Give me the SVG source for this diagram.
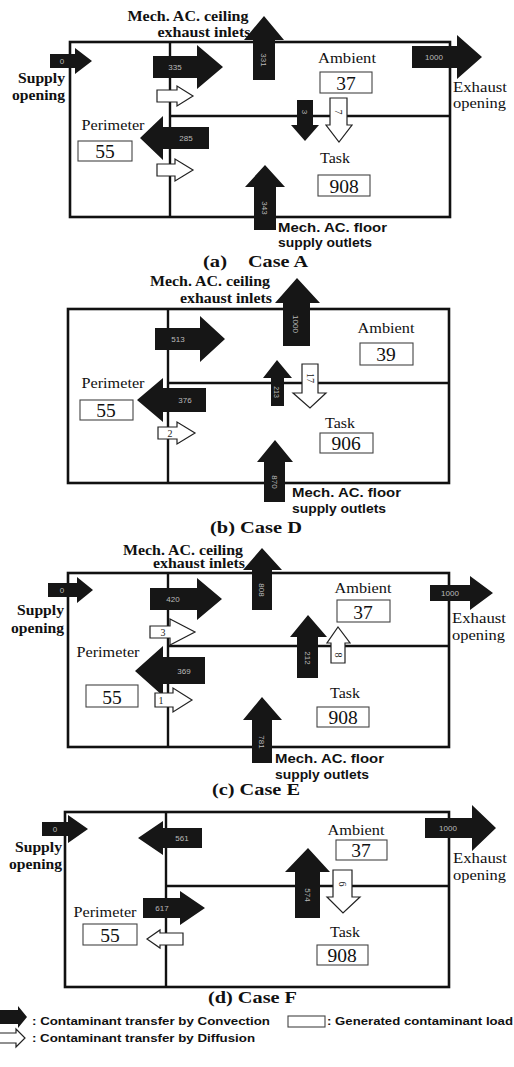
<svg xmlns="http://www.w3.org/2000/svg" width="514" height="1067" viewBox="0 0 514 1067">
<style>
.room{fill:none;stroke:#111;stroke-width:2.6}
.div{stroke:#111;stroke-width:2.4;fill:none}
.conv{fill:#161616}
.diff{fill:#fff;stroke:#222;stroke-width:1.2}
.box{fill:#fff;stroke:#444;stroke-width:1.1}
.zl{font-family:"Liberation Serif",serif;font-size:14px;fill:#111;text-anchor:middle}
.num{font-family:"Liberation Serif",serif;font-size:19.5px;fill:#111;text-anchor:middle}
.hd{font-family:"Liberation Serif",serif;font-size:14px;font-weight:bold;fill:#111}
.op{font-family:"Liberation Serif",serif;font-size:14px;fill:#111}
.fl{font-family:"Liberation Sans",sans-serif;font-size:12.5px;font-weight:bold;fill:#111}
.cap{font-family:"Liberation Serif",serif;font-size:17px;font-weight:bold;fill:#111}
.at{font-family:"Liberation Sans",sans-serif;font-size:8px;fill:#bbb;text-anchor:middle}
.dt{font-family:"Liberation Serif",serif;font-size:10px;fill:#222;text-anchor:middle}
.lg{font-family:"Liberation Sans",sans-serif;font-size:11px;font-weight:bold;fill:#111}
</style>
<rect width="514" height="1067" fill="#fff"/>

<!-- Panel (a) -->
<g id="panelA">
  <g id="a-room"><rect class="room" x="70" y="42" width="380" height="175"/><path class="div" d="M170 42V217M170 116H450"/></g>
  <g id="a-perimeter"><text class="zl" x="113" y="130" textLength="63" lengthAdjust="spacingAndGlyphs">Perimeter</text><rect class="box" x="78" y="141" width="54" height="20"/><text class="num" x="105" y="158">55</text></g>
  <g id="a-ambient"><text class="zl" x="347" y="63" textLength="58" lengthAdjust="spacingAndGlyphs">Ambient</text><rect class="box" x="320" y="72" width="52" height="21"/><text class="num" x="346" y="90">37</text></g>
  <g id="a-task"><text class="zl" x="335" y="163" textLength="30" lengthAdjust="spacingAndGlyphs">Task</text><rect class="box" x="318" y="175" width="52" height="21"/><text class="num" x="344" y="193">908</text></g>
  <g id="a-labels">
    <text class="hd" x="188" y="21" text-anchor="middle" textLength="121" lengthAdjust="spacingAndGlyphs">Mech. AC. ceiling</text>
    <text class="hd" x="204" y="37" text-anchor="middle" textLength="93" lengthAdjust="spacingAndGlyphs">exhaust inlets</text>
    <text class="hd" x="65" y="83" text-anchor="end" textLength="47" lengthAdjust="spacingAndGlyphs">Supply</text>
    <text class="hd" x="65" y="100" text-anchor="end" textLength="53" lengthAdjust="spacingAndGlyphs">opening</text>
    <text class="op" x="453" y="92" textLength="54" lengthAdjust="spacingAndGlyphs">Exhaust</text>
    <text class="op" x="453" y="108" textLength="53" lengthAdjust="spacingAndGlyphs">opening</text>
    <text class="fl" x="278" y="232" textLength="109" lengthAdjust="spacingAndGlyphs">Mech. AC. floor</text>
    <text class="fl" x="278" y="247" textLength="94" lengthAdjust="spacingAndGlyphs">supply outlets</text>
    <text class="cap" x="203" y="267" textLength="24" lengthAdjust="spacingAndGlyphs">(a)</text><text class="cap" x="248" y="267" textLength="60" lengthAdjust="spacingAndGlyphs">Case A</text>
  </g>
</g>

<!-- Panel (b) -->
<g id="panelB">
  <g id="b-room"><rect class="room" x="68" y="309" width="381" height="174"/><path class="div" d="M168 309V483M168 383H449"/></g>
  <g id="b-perimeter"><text class="zl" x="113" y="388" textLength="63" lengthAdjust="spacingAndGlyphs">Perimeter</text><rect class="box" x="80" y="400" width="53" height="20"/><text class="num" x="106" y="417">55</text></g>
  <g id="b-ambient"><text class="zl" x="386" y="333" textLength="57" lengthAdjust="spacingAndGlyphs">Ambient</text><rect class="box" x="360" y="343" width="53" height="22"/><text class="num" x="386" y="361">39</text></g>
  <g id="b-task"><text class="zl" x="340" y="428" textLength="30" lengthAdjust="spacingAndGlyphs">Task</text><rect class="box" x="320" y="433" width="53" height="20"/><text class="num" x="346" y="450">906</text></g>
  <g id="b-labels">
    <text class="hd" x="210" y="286" text-anchor="middle" textLength="120" lengthAdjust="spacingAndGlyphs">Mech. AC. ceiling</text>
    <text class="hd" x="226" y="303" text-anchor="middle" textLength="92" lengthAdjust="spacingAndGlyphs">exhaust inlets</text>
    <text class="fl" x="292" y="497" textLength="109" lengthAdjust="spacingAndGlyphs">Mech. AC. floor</text>
    <text class="fl" x="292" y="513" textLength="94" lengthAdjust="spacingAndGlyphs">supply outlets</text>
    <text class="cap" x="210" y="533" textLength="92" lengthAdjust="spacingAndGlyphs">(b) Case D</text>
  </g>
</g>

<!-- Panel (c) -->
<g id="panelC">
  <g id="c-room"><rect class="room" x="68" y="573" width="381" height="174"/><path class="div" d="M168 573V747M168 646H449"/></g>
  <g id="c-perimeter"><text class="zl" x="108" y="657" textLength="63" lengthAdjust="spacingAndGlyphs">Perimeter</text><rect class="box" x="86" y="685" width="52" height="22"/><text class="num" x="112" y="704">55</text></g>
  <g id="c-ambient"><text class="zl" x="363" y="593" textLength="57" lengthAdjust="spacingAndGlyphs">Ambient</text><rect class="box" x="337" y="600" width="53" height="22"/><text class="num" x="363" y="619">37</text></g>
  <g id="c-task"><text class="zl" x="345" y="698" textLength="30" lengthAdjust="spacingAndGlyphs">Task</text><rect class="box" x="317" y="707" width="52" height="20"/><text class="num" x="343" y="724">908</text></g>
  <g id="c-labels">
    <text class="hd" x="183" y="555" text-anchor="middle" textLength="120" lengthAdjust="spacingAndGlyphs">Mech. AC. ceiling</text>
    <text class="hd" x="199" y="568" text-anchor="middle" textLength="92" lengthAdjust="spacingAndGlyphs">exhaust inlets</text>
    <text class="hd" x="64" y="615" text-anchor="end" textLength="47" lengthAdjust="spacingAndGlyphs">Supply</text>
    <text class="hd" x="64" y="633" text-anchor="end" textLength="53" lengthAdjust="spacingAndGlyphs">opening</text>
    <text class="op" x="452" y="623" textLength="54" lengthAdjust="spacingAndGlyphs">Exhaust</text>
    <text class="op" x="452" y="640" textLength="53" lengthAdjust="spacingAndGlyphs">opening</text>
    <text class="fl" x="275" y="763" textLength="109" lengthAdjust="spacingAndGlyphs">Mech. AC. floor</text>
    <text class="fl" x="275" y="779" textLength="94" lengthAdjust="spacingAndGlyphs">supply outlets</text>
    <text class="cap" x="212" y="795" textLength="88" lengthAdjust="spacingAndGlyphs">(c) Case E</text>
  </g>
</g>

<!-- Panel (d) -->
<g id="panelD">
  <g id="d-room"><rect class="room" x="65" y="812" width="384" height="175"/><path class="div" d="M166 812V987M166 886H449"/></g>
  <g id="d-perimeter"><text class="zl" x="105" y="917" textLength="63" lengthAdjust="spacingAndGlyphs">Perimeter</text><rect class="box" x="83" y="924" width="54" height="21"/><text class="num" x="110" y="942">55</text></g>
  <g id="d-ambient"><text class="zl" x="356" y="835" textLength="57" lengthAdjust="spacingAndGlyphs">Ambient</text><rect class="box" x="336" y="840" width="51" height="20"/><text class="num" x="361" y="857">37</text></g>
  <g id="d-task"><text class="zl" x="345" y="937" textLength="30" lengthAdjust="spacingAndGlyphs">Task</text><rect class="box" x="317" y="945" width="51" height="20"/><text class="num" x="342" y="962">908</text></g>
  <g id="d-labels">
    <text class="hd" x="62" y="852" text-anchor="end" textLength="47" lengthAdjust="spacingAndGlyphs">Supply</text>
    <text class="hd" x="62" y="869" text-anchor="end" textLength="53" lengthAdjust="spacingAndGlyphs">opening</text>
    <text class="op" x="453" y="863" textLength="54" lengthAdjust="spacingAndGlyphs">Exhaust</text>
    <text class="op" x="453" y="880" textLength="53" lengthAdjust="spacingAndGlyphs">opening</text>
    <text class="cap" x="208" y="1003" textLength="89" lengthAdjust="spacingAndGlyphs">(d) Case F</text>
  </g>
</g>

<!-- Connectors -->
<g id="connectors">
  <!-- a -->
  <path class="conv" d="M50,54H75V48L92,61L75,74V68H50Z"/><text class="at" x="62" y="64">0</text>
  <path class="conv" d="M153,56H197V45L223,67L197,89V78H153Z"/><text class="at" x="175" y="70">335</text>
  <path class="diff" d="M157,90H177V86L193,96L177,106V102H157Z"/>
  <path class="conv" d="M253,80V40H244L264,16L284,40H275V80Z"/><text class="at" transform="translate(264,60) rotate(90)" y="3">331</text>
  <path class="conv" d="M412,46H457V35L482,57L457,79V68H412Z"/><text class="at" x="434" y="60">1000</text>
  <path class="conv" d="M297,100V125H291L305,141L319,125H313V100Z"/><text class="at" transform="translate(305,112) rotate(90)" y="3">3</text>
  <path class="diff" d="M330,98V125H326L339,142L352,125H347V98Z"/><text class="dt" transform="translate(338,112) rotate(90)" y="3">7</text>
  <path class="conv" d="M254,230V187H245L265,165L285,187H276V230Z"/><text class="at" transform="translate(265,208) rotate(90)" y="3">343</text>
  <path class="conv" d="M209,127H163V116L140,138L163,160V149H209Z"/><text class="at" x="186" y="141">285</text>
  <path class="diff" d="M157,164H175V159L193,170L175,181V176H157Z"/>
  <!-- b -->
  <path class="conv" d="M155,328H200V316L225,339L200,362V350H155Z"/><text class="at" x="178" y="342">513</text>
  <path class="conv" d="M283,346V303H275L297,278L320,303H310V346Z"/><text class="at" transform="translate(296,324) rotate(90)" y="3">1000</text>
  <path class="conv" d="M206,388H163V378L137,400L163,422V412H206Z"/><text class="at" x="185" y="403">376</text>
  <path class="diff" d="M158,427H177V422L195,433L177,444V439H158Z"/><text class="dt" x="170" y="437">2</text>
  <path class="conv" d="M271,406V378H263L277,360L292,378H284V406Z"/><text class="at" transform="translate(277,392) rotate(90)" y="3" style="font-size:7px">213</text>
  <path class="diff" d="M302,364V393H293L310,408L326,393H318V364Z"/><text class="dt" transform="translate(310,378) rotate(90)" y="3">17</text>
  <path class="conv" d="M264,502V462H257L275,440L293,462H285V502Z"/><text class="at" transform="translate(275,482) rotate(90)" y="3">870</text>
  <!-- c -->
  <path class="conv" d="M48,583H77V577L93,590L77,603V597H48Z"/><text class="at" x="62" y="593">0</text>
  <path class="conv" d="M150,588H197V578L222,599L197,620V610H150Z"/><text class="at" x="173" y="602">420</text>
  <path class="diff" d="M150,626H170V619L195,632L170,645V638H150Z"/><text class="dt" x="163" y="636">3</text>
  <path class="conv" d="M205,657H163V646L135,671L163,696V684H205Z"/><text class="at" x="184" y="674">369</text>
  <path class="diff" d="M155,693H173V688L192,700L173,712V707H155Z"/><text class="dt" x="161" y="704">1</text>
  <path class="conv" d="M252,610V570H243L262,548L282,570H272V610Z"/><text class="at" transform="translate(262,590) rotate(90)" y="3">808</text>
  <path class="conv" d="M430,585H470V576L493,593L470,610V601H430Z"/><text class="at" x="450" y="596">1000</text>
  <path class="conv" d="M297,678V637H290L308,615L327,637H318V678Z"/><text class="at" transform="translate(308,658) rotate(90)" y="3">212</text>
  <path class="diff" d="M331,663V643H327L338,627L350,643H345V663Z"/><text class="dt" transform="translate(338,655) rotate(90)" y="3">8</text>
  <path class="conv" d="M252,763V720H243L262,697L282,720H272V763Z"/><text class="at" transform="translate(262,742) rotate(90)" y="3">781</text>
  <!-- d -->
  <path class="conv" d="M42,822H68V815L88,829L68,843V836H42Z"/><text class="at" x="55" y="832">0</text>
  <path class="conv" d="M202,828H163V821L138,838L163,855V848H202Z"/><text class="at" x="182" y="841">561</text>
  <path class="conv" d="M143,898H180V891L205,908L180,925V918H143Z"/><text class="at" x="162" y="911">617</text>
  <path class="diff" d="M183,933H160V930L147,939L160,948V945H183Z"/>
  <path class="conv" d="M425,818H472V805L496,828L472,851V838H425Z"/><text class="at" x="448" y="831">1000</text>
  <path class="conv" d="M295,918V872H285L308,848L330,872H320V918Z"/><text class="at" transform="translate(308,895) rotate(90)" y="3">574</text>
  <path class="diff" d="M333,870V897H327L343,913L360,897H352V870Z"/><text class="dt" transform="translate(342,884) rotate(90)" y="3">6</text>
</g>

<!-- Legend -->
<g id="legend">
  <path class="conv" d="M0,1010H18V1006L27,1017L18,1028V1024H0Z"/>
  <text class="lg" x="32" y="1025" textLength="238" lengthAdjust="spacingAndGlyphs">: Contaminant transfer by Convection</text>
  <rect class="box" x="288" y="1016" width="37" height="11"/>
  <text class="lg" x="327" y="1025" textLength="186" lengthAdjust="spacingAndGlyphs">: Generated contaminant load</text>
  <path class="diff" d="M-1,1033H16V1029L25,1038L16,1047V1043H-1Z"/>
  <text class="lg" x="32" y="1042" textLength="223" lengthAdjust="spacingAndGlyphs">: Contaminant transfer by Diffusion</text>
</g>
</svg>
